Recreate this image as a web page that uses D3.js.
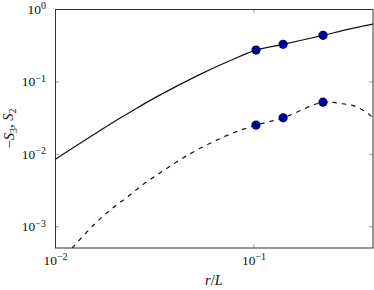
<!DOCTYPE html>
<html>
<head>
<meta charset="utf-8">
<script src="https://cdn.jsdelivr.net/npm/d3@7"></script>
<style>
body { margin: 0; background: #fff; }
svg { display: block; font-family: "Liberation Serif", "DejaVu Serif", serif; }
.axis path { display: none; }
.axis line { stroke: #9a9a9a; }
.axis text { fill: #111; }
</style>
</head>
<body>
<div id="chart"></div>
<script>
// S2 curve (solid)
var s2R   = [0.01, 0.0205, 0.0262, 0.0337, 0.0538, 0.0744, 0.103, 0.141, 0.224, 0.299, 0.4];
var s2Val = [0.00834, 0.0292, 0.0437, 0.0646, 0.125, 0.188, 0.271, 0.325, 0.433, 0.524, 0.62];

// -S3 curve (dashed)
var s3R   = [0.0122, 0.0156, 0.0189, 0.0230, 0.0279, 0.0338, 0.0410, 0.0498, 0.0626, 0.0791, 0.103, 0.141, 0.224, 0.273, 0.331, 0.386, 0.4];
var s3Val = [0.0005, 0.00103, 0.00166, 0.00249, 0.0038, 0.00544, 0.00773, 0.01062, 0.01462, 0.01946, 0.0249, 0.0314, 0.0517, 0.0496, 0.0445, 0.0342, 0.0314];

// measured points
var dotR  = [0.103, 0.141, 0.224];
var dotS2 = [0.271, 0.325, 0.433];
var dotS3 = [0.0249, 0.0314, 0.0517];

// tick labels
var xTicks = [0.01, 0.1];
var xTickExp = ["\u22122", "\u22121"];
var yTicks = [1, 0.1, 0.01, 0.001];
var yTickExp = ["0", "\u22121", "\u22122", "\u22123"];

var margin = { top: 9, right: 1, bottom: 42, left: 55 },
    width = 374 - margin.left - margin.right,
    height = 290 - margin.top - margin.bottom;

var x = d3.scaleLog().domain([0.01, 0.4]).range([0, width]);
var y = d3.scaleLog().domain([5e-4, 1]).range([height, 0]);

var root = d3.select("#chart").append("svg")
    .attr("width", 374)
    .attr("height", 290);

var svg = root.append("g")
    .attr("transform", "translate(" + margin.left + "," + margin.top + ")");

svg.append("clipPath").attr("id", "plotclip")
    .append("rect").attr("width", width).attr("height", height);

// axes, ticks pointing inward, mirrored on top and right
var gX = svg.append("g")
    .attr("class", "axis")
    .attr("transform", "translate(0," + height + ")")
    .call(d3.axisBottom(x).tickValues(xTicks).tickSize(-4).tickPadding(7).tickFormat(""));
gX.attr("font-family", null).attr("font-size", 13.5);
gX.selectAll(".tick text").each(function(d, i) {
    var t = d3.select(this);
    t.append("tspan").text("10");
    t.append("tspan").attr("dy", "-0.45em").attr("font-size", 10).text(xTickExp[i]);
});

var gY = svg.append("g")
    .attr("class", "axis")
    .call(d3.axisLeft(y).tickValues(yTicks).tickSize(-4).tickPadding(9).tickFormat(""));
gY.attr("font-family", null).attr("font-size", 13.5);
gY.selectAll(".tick text").each(function(d, i) {
    var t = d3.select(this);
    t.append("tspan").text("10");
    t.append("tspan").attr("dy", "-0.45em").attr("font-size", 10).text(yTickExp[i]);
});

svg.append("g")
    .attr("class", "axis")
    .call(d3.axisTop(x).tickValues(xTicks).tickSize(-4).tickFormat(""));
svg.append("g")
    .attr("class", "axis")
    .attr("transform", "translate(" + width + ",0)")
    .call(d3.axisRight(y).tickValues(yTicks).tickSize(-4).tickFormat(""));

// frame
svg.append("rect")
    .attr("x", 0.5).attr("y", 0.5)
    .attr("width", width - 0.5).attr("height", height - 0.5)
    .attr("fill", "none")
    .attr("stroke", "#333")
    .attr("stroke-width", 1);

var line = d3.line()
    .x(function(d) { return x(d[0]); })
    .y(function(d) { return y(d[1]); })
    .curve(d3.curveCatmullRom);

var plot = svg.append("g").attr("clip-path", "url(#plotclip)");

plot.append("path")
    .datum(d3.zip(s2R, s2Val))
    .attr("d", line)
    .attr("fill", "none")
    .attr("stroke", "#111")
    .attr("stroke-width", 1.2);

plot.append("path")
    .datum(d3.zip(s3R, s3Val))
    .attr("d", line)
    .attr("fill", "none")
    .attr("stroke", "#111")
    .attr("stroke-width", 1.2)
    .attr("stroke-dasharray", "4.5,5");

svg.selectAll(".dot2")
    .data(d3.zip(dotR, dotS2))
    .enter().append("circle")
    .attr("cx", function(d) { return x(d[0]); })
    .attr("cy", function(d) { return y(d[1]); })
    .attr("r", 4.6)
    .attr("fill", "#00008b");

svg.selectAll(".dot3")
    .data(d3.zip(dotR, dotS3))
    .enter().append("circle")
    .attr("cx", function(d) { return x(d[0]); })
    .attr("cy", function(d) { return y(d[1]); })
    .attr("r", 4.6)
    .attr("fill", "#00008b");

// axis titles
var xt = root.append("text")
    .attr("x", margin.left + width / 2)
    .attr("y", 285)
    .attr("text-anchor", "middle")
    .attr("font-size", 14.5)
    .attr("fill", "#111");
xt.append("tspan").attr("font-style", "italic").text("r");
xt.append("tspan").text("/");
xt.append("tspan").attr("font-style", "italic").text("L");

var yt = root.append("text")
    .attr("transform", "translate(14," + (margin.top + height / 2) + ") rotate(-90)")
    .attr("text-anchor", "middle")
    .attr("font-size", 14.5)
    .attr("fill", "#111");
yt.append("tspan").text("\u2212");
yt.append("tspan").attr("font-style", "italic").text("S");
yt.append("tspan").attr("font-size", 10).attr("dy", "0.3em").text("3");
yt.append("tspan").attr("dy", "-0.3em").text(", ");
yt.append("tspan").attr("font-style", "italic").text("S");
yt.append("tspan").attr("font-size", 10).attr("dy", "0.3em").text("2");
</script>
</body>
</html>
